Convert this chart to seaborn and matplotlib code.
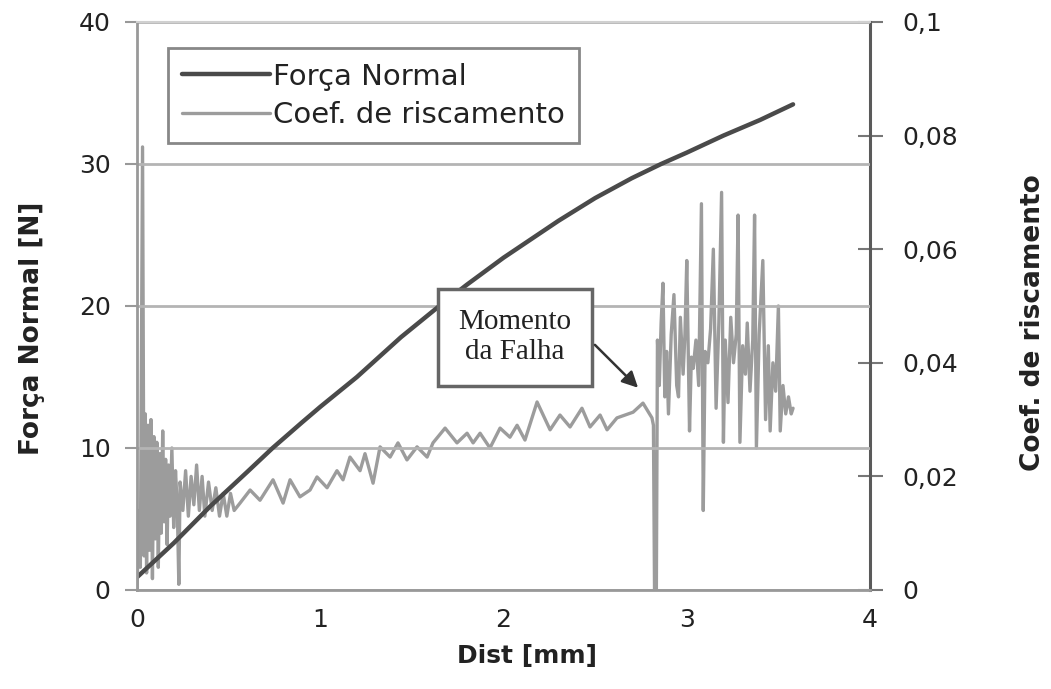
import matplotlib
matplotlib.use("Agg")
import matplotlib.pyplot as plt
from matplotlib.lines import Line2D
import seaborn as sns
import pandas as pd

# ---------------- data ----------------
force_dist = [0.00, 0.10, 0.20, 0.30, 0.40, 0.50, 0.60, 0.74, 0.90, 1.00, 1.20, 1.44,
              1.64, 1.80, 2.00, 2.30, 2.50, 2.70, 2.86, 3.00, 3.20, 3.40, 3.58]
force_val = [0.9, 2.1, 3.3, 4.6, 5.9, 7.1, 8.3, 10.0, 11.8, 12.9, 15.0, 17.8,
             19.9, 21.5, 23.4, 26.0, 27.6, 29.0, 30.0, 30.8, 32.0, 33.1, 34.2]

coef_dist = [0.000, 0.010, 0.018, 0.030, 0.038, 0.045, 0.052, 0.060, 0.068, 0.076,
             0.084, 0.092, 0.100, 0.108, 0.116, 0.124, 0.132, 0.140, 0.148, 0.156,
             0.164, 0.172, 0.180, 0.190, 0.200, 0.210, 0.220, 0.228, 0.235, 0.250,
             0.265, 0.280, 0.295, 0.310, 0.325, 0.340, 0.355, 0.370, 0.390, 0.410,
             0.430, 0.450, 0.470, 0.490, 0.510, 0.530, 0.562, 0.617, 0.671, 0.742,
             0.797, 0.835, 0.889, 0.944, 0.982, 1.037, 1.091, 1.124, 1.162, 1.217,
             1.244, 1.288, 1.326, 1.381, 1.424, 1.473, 1.528, 1.583, 1.615, 1.681,
             1.746, 1.801, 1.834, 1.872, 1.926, 1.981, 2.035, 2.074, 2.117, 2.183,
             2.254, 2.308, 2.363, 2.428, 2.472, 2.527, 2.565, 2.619, 2.707, 2.761,
             2.810, 2.818, 2.824, 2.834, 2.840, 2.850, 2.860, 2.870, 2.880, 2.890,
             2.900, 2.915, 2.930, 2.945, 2.955, 2.965, 2.980, 2.990, 3.000, 3.015,
             3.025, 3.035, 3.050, 3.065, 3.080, 3.090, 3.100, 3.115, 3.130, 3.145,
             3.160, 3.175, 3.190, 3.200, 3.210, 3.225, 3.240, 3.255, 3.270, 3.280,
             3.290, 3.305, 3.320, 3.330, 3.345, 3.360, 3.370, 3.380, 3.395, 3.415,
             3.430, 3.445, 3.455, 3.470, 3.485, 3.500, 3.510, 3.525, 3.540, 3.555,
             3.570, 3.580]
coef_val = [0.000, 0.014, 0.004, 0.078, 0.006, 0.031, 0.003, 0.029, 0.007, 0.030,
            0.002, 0.027, 0.009, 0.026, 0.004, 0.024, 0.010, 0.028, 0.012, 0.023,
            0.008, 0.022, 0.013, 0.025, 0.011, 0.021, 0.014, 0.001, 0.019, 0.014,
            0.021, 0.013, 0.020, 0.015, 0.022, 0.014, 0.020, 0.013, 0.019, 0.014,
            0.018, 0.013, 0.017, 0.013, 0.017, 0.014, 0.0153, 0.0176, 0.0158, 0.0194,
            0.0153, 0.0194, 0.0164, 0.0176, 0.0199, 0.0180, 0.0210, 0.0194, 0.0234, 0.0210,
            0.0240, 0.0188, 0.0252, 0.0234, 0.0259, 0.0229, 0.0252, 0.0234, 0.0259, 0.0285,
            0.0259, 0.0276, 0.0259, 0.0276, 0.0250, 0.0285, 0.0269, 0.0290, 0.0264, 0.0331,
            0.0282, 0.0308, 0.0287, 0.0320, 0.0287, 0.0308, 0.0282, 0.0303, 0.0313, 0.0329,
            0.0303, 0.0290, 0.000, 0.000, 0.044, 0.036, 0.047, 0.054, 0.034, 0.042,
            0.031, 0.045, 0.052, 0.036, 0.034, 0.048, 0.038, 0.045, 0.058, 0.028,
            0.041, 0.039, 0.044, 0.036, 0.068, 0.014, 0.042, 0.040, 0.046, 0.060,
            0.032, 0.047, 0.070, 0.026, 0.044, 0.033, 0.048, 0.040, 0.045, 0.066,
            0.026, 0.043, 0.038, 0.047, 0.035, 0.044, 0.066, 0.025, 0.045, 0.058,
            0.030, 0.043, 0.028, 0.040, 0.035, 0.050, 0.028, 0.036, 0.031, 0.034,
            0.031, 0.032]

x_ticks = [0, 1, 2, 3, 4]
left_ticks = [0, 10, 20, 30, 40]
right_ticks = [0, 0.02, 0.04, 0.06, 0.08, 0.1]
right_tick_labels = ["0", "0,02", "0,04", "0,06", "0,08", "0,1"]

series_names = ["Força Normal", "Coef. de riscamento"]
x_label = "Dist [mm]"
left_label = "Força Normal [N]"
right_label = "Coef. de riscamento"
note_text = "Momento\nda Falha"

# ---------------- styling ----------------
sns.set_style("white")
plt.rcParams['font.family'] = ['DejaVu Sans']

force_color = "#4a4a4a"
coef_color = "#9c9c9c"

fig = plt.figure(figsize=(10.51, 6.89), dpi=100)
ax = fig.add_axes([0.1304, 0.1437, 0.6974, 0.8244])
ax2 = ax.twinx()

df_force = pd.DataFrame({"dist": force_dist, "val": force_val})
df_coef = pd.DataFrame({"dist": coef_dist, "val": coef_val})

sns.lineplot(data=df_coef, x="dist", y="val", ax=ax2, color=coef_color, lw=2.4,
             sort=False, estimator=None, legend=False)
sns.lineplot(data=df_force, x="dist", y="val", ax=ax, color=force_color, lw=3.2,
             sort=False, estimator=None, legend=False)

ax.set_zorder(2)
ax2.set_zorder(1)
ax.patch.set_visible(False)

ax.set_xlim(0, 4)
ax.set_ylim(0, 40)
ax2.set_ylim(0, 0.1)

ax.set_xticks(x_ticks)
ax.set_xticklabels([str(t) for t in x_ticks])
ax.set_yticks(left_ticks)
ax.set_yticklabels([str(t) for t in left_ticks])
ax2.set_yticks(right_ticks)
ax2.set_yticklabels(right_tick_labels)

ax.yaxis.grid(True, color="#b4b4b4", lw=2)
ax.xaxis.grid(False)
ax.set_axisbelow(True)

for s in ["left", "bottom"]:
    ax.spines[s].set_color("#999999")
    ax.spines[s].set_linewidth(2)
ax.spines["top"].set_color("#d0d0d0")
ax.spines["top"].set_linewidth(1.5)
ax.spines["right"].set_visible(False)
for s in ["left", "top", "bottom"]:
    ax2.spines[s].set_visible(False)
ax2.spines["right"].set_color("#5a5a5a")
ax2.spines["right"].set_linewidth(2.2)

ax.tick_params(axis="y", direction="out", length=9, width=1.5, color="#999999",
               labelsize=18, pad=10, labelcolor="#222222")
ax.tick_params(axis="x", direction="inout", length=14, width=1.5, color="#888888",
               labelsize=18, pad=6, labelcolor="#222222")
ax2.tick_params(axis="y", direction="inout", length=18, width=1.5, color="#777777",
                labelsize=18, pad=14, labelcolor="#222222")

ax.set_xlabel(x_label, fontsize=18, fontweight="bold", color="#222222")
ax.xaxis.set_label_coords(0.532, -0.095)
ax.set_ylabel(left_label, fontsize=19, fontweight="bold", color="#222222")
ax.yaxis.set_label_coords(-0.125, 0.461)
ax2.set_ylabel(right_label, fontsize=19, fontweight="bold", color="#222222")
ax2.yaxis.set_label_coords(1.205, 0.47)

handles = [Line2D([0], [0], color=force_color, lw=3.2),
           Line2D([0], [0], color=coef_color, lw=2.4)]
leg = ax.legend(handles, series_names, loc="upper left", bbox_to_anchor=(0.042, 0.954),
                borderaxespad=0, frameon=True, fancybox=False, framealpha=1,
                edgecolor="#888888", fontsize=21, handlelength=3.0, handletextpad=0.1,
                borderpad=0.5, labelspacing=0.35)
leg.get_frame().set_linewidth(2)
for t in leg.get_texts():
    t.set_color("#222222")

ax.text(2.063, 17.8, note_text, ha="center", va="center", multialignment="center",
        family=["Liberation Serif", "DejaVu Serif"], fontsize=21, color="#222222",
        zorder=6,
        bbox=dict(boxstyle="square,pad=0.7", fc="white", ec="#666666", lw=2.5))
ax.annotate("", xy=(2.745, 14.1), xytext=(2.488, 17.4),
            arrowprops=dict(arrowstyle="-|>", color="#333333", lw=1.8, mutation_scale=24),
            zorder=6)

fig.savefig("out.png", dpi=100)
